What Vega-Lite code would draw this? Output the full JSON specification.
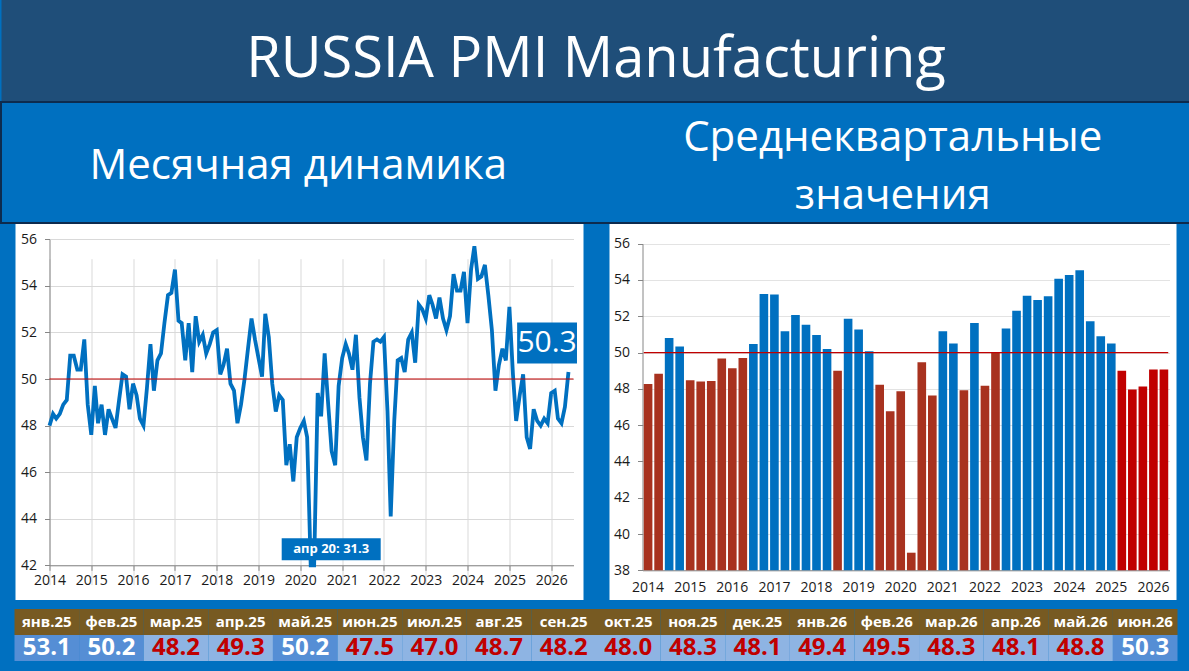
{
  "$schema": "https://vega.github.io/schema/vega-lite/v6.json",
  "background": "#0070c0",
  "padding": 0,
  "spacing": 0,
  "center": true,
  "config": {
    "font": "Open Sans",
    "view": {"stroke": null},
    "axis": {"labelFont": "Open Sans", "labelColor": "#1a1a1a", "labelFontSize": 14, "title": null, "domainColor": "#868686", "tickColor": "#868686", "gridColor": "#d9d9d9"}
  },
  "datasets": {
    "monthly": [
      {"d":"2014/01/01","v":48.0},{"d":"2014/02/01","v":48.5},{"d":"2014/03/01","v":48.3},{"d":"2014/04/01","v":48.5},{"d":"2014/05/01","v":48.9},{"d":"2014/06/01","v":49.1},{"d":"2014/07/01","v":51.0},{"d":"2014/08/01","v":51.0},{"d":"2014/09/01","v":50.4},{"d":"2014/10/01","v":50.4},{"d":"2014/11/01","v":51.7},{"d":"2014/12/01","v":48.9},
      {"d":"2015/01/01","v":47.6},{"d":"2015/02/01","v":49.7},{"d":"2015/03/01","v":48.1},{"d":"2015/04/01","v":48.9},{"d":"2015/05/01","v":47.6},{"d":"2015/06/01","v":48.7},{"d":"2015/07/01","v":48.3},{"d":"2015/08/01","v":47.9},{"d":"2015/09/01","v":49.1},{"d":"2015/10/01","v":50.2},{"d":"2015/11/01","v":50.1},{"d":"2015/12/01","v":48.7},
      {"d":"2016/01/01","v":49.8},{"d":"2016/02/01","v":49.3},{"d":"2016/03/01","v":48.3},{"d":"2016/04/01","v":48.0},{"d":"2016/05/01","v":49.6},{"d":"2016/06/01","v":51.5},{"d":"2016/07/01","v":49.5},{"d":"2016/08/01","v":50.8},{"d":"2016/09/01","v":51.1},{"d":"2016/10/01","v":52.4},{"d":"2016/11/01","v":53.6},{"d":"2016/12/01","v":53.7},
      {"d":"2017/01/01","v":54.7},{"d":"2017/02/01","v":52.5},{"d":"2017/03/01","v":52.4},{"d":"2017/04/01","v":50.8},{"d":"2017/05/01","v":52.4},{"d":"2017/06/01","v":50.3},{"d":"2017/07/01","v":52.7},{"d":"2017/08/01","v":51.6},{"d":"2017/09/01","v":51.9},{"d":"2017/10/01","v":51.1},{"d":"2017/11/01","v":51.5},{"d":"2017/12/01","v":52.0},
      {"d":"2018/01/01","v":52.1},{"d":"2018/02/01","v":50.2},{"d":"2018/03/01","v":50.6},{"d":"2018/04/01","v":51.3},{"d":"2018/05/01","v":49.8},{"d":"2018/06/01","v":49.5},{"d":"2018/07/01","v":48.1},{"d":"2018/08/01","v":48.9},{"d":"2018/09/01","v":50.0},{"d":"2018/10/01","v":51.3},{"d":"2018/11/01","v":52.6},{"d":"2018/12/01","v":51.7},
      {"d":"2019/01/01","v":50.9},{"d":"2019/02/01","v":50.1},{"d":"2019/03/01","v":52.8},{"d":"2019/04/01","v":51.8},{"d":"2019/05/01","v":49.8},{"d":"2019/06/01","v":48.6},{"d":"2019/07/01","v":49.3},{"d":"2019/08/01","v":49.1},{"d":"2019/09/01","v":46.3},{"d":"2019/10/01","v":47.2},{"d":"2019/11/01","v":45.6},{"d":"2019/12/01","v":47.5},
      {"d":"2020/01/01","v":47.9},{"d":"2020/02/01","v":48.2},{"d":"2020/03/01","v":47.5},{"d":"2020/04/01","v":31.3},{"d":"2020/05/01","v":36.2},{"d":"2020/06/01","v":49.4},{"d":"2020/07/01","v":48.4},{"d":"2020/08/01","v":51.1},{"d":"2020/09/01","v":48.9},{"d":"2020/10/01","v":46.9},{"d":"2020/11/01","v":46.3},{"d":"2020/12/01","v":49.7},
      {"d":"2021/01/01","v":50.9},{"d":"2021/02/01","v":51.5},{"d":"2021/03/01","v":51.1},{"d":"2021/04/01","v":50.4},{"d":"2021/05/01","v":51.9},{"d":"2021/06/01","v":49.2},{"d":"2021/07/01","v":47.5},{"d":"2021/08/01","v":46.5},{"d":"2021/09/01","v":49.8},{"d":"2021/10/01","v":51.6},{"d":"2021/11/01","v":51.7},{"d":"2021/12/01","v":51.6},
      {"d":"2022/01/01","v":51.8},{"d":"2022/02/01","v":48.6},{"d":"2022/03/01","v":44.1},{"d":"2022/04/01","v":48.2},{"d":"2022/05/01","v":50.8},{"d":"2022/06/01","v":50.9},{"d":"2022/07/01","v":50.3},{"d":"2022/08/01","v":51.7},{"d":"2022/09/01","v":52.0},{"d":"2022/10/01","v":50.7},{"d":"2022/11/01","v":53.2},{"d":"2022/12/01","v":53.0},
      {"d":"2023/01/01","v":52.6},{"d":"2023/02/01","v":53.6},{"d":"2023/03/01","v":53.2},{"d":"2023/04/01","v":52.6},{"d":"2023/05/01","v":53.5},{"d":"2023/06/01","v":52.6},{"d":"2023/07/01","v":52.1},{"d":"2023/08/01","v":52.7},{"d":"2023/09/01","v":54.5},{"d":"2023/10/01","v":53.8},{"d":"2023/11/01","v":53.8},{"d":"2023/12/01","v":54.6},
      {"d":"2024/01/01","v":52.4},{"d":"2024/02/01","v":54.7},{"d":"2024/03/01","v":55.7},{"d":"2024/04/01","v":54.3},{"d":"2024/05/01","v":54.4},{"d":"2024/06/01","v":54.9},{"d":"2024/07/01","v":53.6},{"d":"2024/08/01","v":52.1},{"d":"2024/09/01","v":49.5},{"d":"2024/10/01","v":50.6},{"d":"2024/11/01","v":51.3},{"d":"2024/12/01","v":50.8},
      {"d":"2025/01/01","v":53.1},{"d":"2025/02/01","v":50.2},{"d":"2025/03/01","v":48.2},{"d":"2025/04/01","v":49.3},{"d":"2025/05/01","v":50.2},{"d":"2025/06/01","v":47.5},{"d":"2025/07/01","v":47.0},{"d":"2025/08/01","v":48.7},{"d":"2025/09/01","v":48.2},{"d":"2025/10/01","v":48.0},{"d":"2025/11/01","v":48.3},{"d":"2025/12/01","v":48.1},
      {"d":"2026/01/01","v":49.4},{"d":"2026/02/01","v":49.5},{"d":"2026/03/01","v":48.3},{"d":"2026/04/01","v":48.1},{"d":"2026/05/01","v":48.8},{"d":"2026/06/01","v":50.3}
    ],
    "quarterly": [
      {"q":"2014Q1","y":2014,"v":48.27},{"q":"2014Q2","y":2014,"v":48.83},{"q":"2014Q3","y":2014,"v":50.80},{"q":"2014Q4","y":2014,"v":50.33},
      {"q":"2015Q1","y":2015,"v":48.47},{"q":"2015Q2","y":2015,"v":48.40},{"q":"2015Q3","y":2015,"v":48.43},{"q":"2015Q4","y":2015,"v":49.67},
      {"q":"2016Q1","y":2016,"v":49.13},{"q":"2016Q2","y":2016,"v":49.70},{"q":"2016Q3","y":2016,"v":50.47},{"q":"2016Q4","y":2016,"v":53.23},
      {"q":"2017Q1","y":2017,"v":53.20},{"q":"2017Q2","y":2017,"v":51.17},{"q":"2017Q3","y":2017,"v":52.07},{"q":"2017Q4","y":2017,"v":51.53},
      {"q":"2018Q1","y":2018,"v":50.97},{"q":"2018Q2","y":2018,"v":50.20},{"q":"2018Q3","y":2018,"v":49.00},{"q":"2018Q4","y":2018,"v":51.87},
      {"q":"2019Q1","y":2019,"v":51.27},{"q":"2019Q2","y":2019,"v":50.07},{"q":"2019Q3","y":2019,"v":48.23},{"q":"2019Q4","y":2019,"v":46.77},
      {"q":"2020Q1","y":2020,"v":47.87},{"q":"2020Q2","y":2020,"v":38.97},{"q":"2020Q3","y":2020,"v":49.47},{"q":"2020Q4","y":2020,"v":47.63},
      {"q":"2021Q1","y":2021,"v":51.17},{"q":"2021Q2","y":2021,"v":50.50},{"q":"2021Q3","y":2021,"v":47.93},{"q":"2021Q4","y":2021,"v":51.63},
      {"q":"2022Q1","y":2022,"v":48.17},{"q":"2022Q2","y":2022,"v":49.97},{"q":"2022Q3","y":2022,"v":51.33},{"q":"2022Q4","y":2022,"v":52.30},
      {"q":"2023Q1","y":2023,"v":53.13},{"q":"2023Q2","y":2023,"v":52.90},{"q":"2023Q3","y":2023,"v":53.10},{"q":"2023Q4","y":2023,"v":54.07},
      {"q":"2024Q1","y":2024,"v":54.27},{"q":"2024Q2","y":2024,"v":54.53},{"q":"2024Q3","y":2024,"v":51.73},{"q":"2024Q4","y":2024,"v":50.90},
      {"q":"2025Q1","y":2025,"v":50.50},{"q":"2025Q2","y":2025,"v":49.00},{"q":"2025Q3","y":2025,"v":47.97},{"q":"2025Q4","y":2025,"v":48.13},
      {"q":"2026Q1","y":2026,"v":49.07},{"q":"2026Q2","y":2026,"v":49.07}
    ],
    "table": [
      {"m":"янв.25","v":53.1},{"m":"фев.25","v":50.2},{"m":"мар.25","v":48.2},{"m":"апр.25","v":49.3},{"m":"май.25","v":50.2},{"m":"июн.25","v":47.5},
      {"m":"июл.25","v":47.0},{"m":"авг.25","v":48.7},{"m":"сен.25","v":48.2},{"m":"окт.25","v":48.0},{"m":"ноя.25","v":48.3},{"m":"дек.25","v":48.1},
      {"m":"янв.26","v":49.4},{"m":"фев.26","v":49.5},{"m":"мар.26","v":48.3},{"m":"апр.26","v":48.1},{"m":"май.26","v":48.8},{"m":"июн.26","v":50.3}
    ]
  },
  "vconcat": [
    {
      "width": 1189, "height": 101,
      "view": {"fill": "#1f4e79", "stroke": null},
      "data": {"values": [{"t": "RUSSIA PMI Manufacturing"}]},
      "mark": {"type": "text", "color": "white", "fontSize": 56, "baseline": "alphabetic", "dy": 26},
      "encoding": {"text": {"field": "t"}}
    },
    {
      "width": 1189, "height": 121,
      "view": {"stroke": "#0d2b4e", "strokeWidth": 2},
      "data": {"values": [{"t": "Месячная динамика"}, {"t": "Среднеквартальные\nзначения"}]},
      "encoding": {
        "x": {"field": "t", "type": "nominal", "sort": null, "scale": {"type": "band", "paddingInner": 0, "paddingOuter": 0}, "axis": null},
        "text": {"field": "t"}
      },
      "layer": [
        {
          "transform": [{"filter": "datum.t == 'Месячная динамика'"}],
          "mark": {"type": "text", "color": "white", "fontSize": 42, "baseline": "middle", "dy": 3.5}
        },
        {
          "transform": [{"filter": "datum.t != 'Месячная динамика'"}],
          "mark": {"type": "text", "color": "white", "fontSize": 42, "lineBreak": "\n", "lineHeight": 58, "baseline": "middle", "dy": -24.5}
        }
      ]
    },
    {
      "spacing": 26,
      "hconcat": [
        {
          "width": 568, "height": 376,
          "view": {"fill": "white", "stroke": null},
          "layer": [
            {
              "data": {"name": "monthly"},
              "mark": {"type": "line", "color": "#0070c0", "strokeWidth": 3.8},
              "encoding": {
                "x": {"field": "d", "type": "temporal",
                  "scale": {"domain": [{"year": 2014, "month": 1, "date": 1}, {"year": 2026, "month": 7, "date": 15}], "range": [34, 558], "nice": false},
                  "axis": {"orient": "bottom", "offset": -34.7, "format": "%Y", "tickCount": {"interval": "year", "step": 1}, "grid": true, "ticks": true, "tickSize": 5, "labelPadding": 3, "labelFlush": false, "labelOverlap": false}},
                "y": {"field": "v", "type": "quantitative",
                  "scale": {"domain": [42, 56], "range": [341.3, 15.3], "clamp": true, "nice": false, "zero": false},
                  "axis": {"offset": -34, "values": [42, 44, 46, 48, 50, 52, 54, 56], "grid": true, "tickSize": 5, "labelPadding": 8}}
              }
            },
            {
              "data": {"values": [{}]},
              "mark": {"type": "rule", "color": "#c00000", "strokeWidth": 1.2},
              "encoding": {
                "x": {"datum": {"year": 2014, "month": 1, "date": 1}, "type": "temporal"},
                "x2": {"datum": {"year": 2026, "month": 7, "date": 15}},
                "y": {"datum": 50, "type": "quantitative"}
              }
            },
            {
              "data": {"values": [{"d": "2026/06/01", "v": 50.3}]},
              "mark": {"type": "point", "shape": "M-1.46,-1L1.46,-1L1.46,1L-1.46,1Z", "size": 1681, "filled": true, "color": "#0070c0", "opacity": 1, "xOffset": -21.4, "yOffset": -29, "strokeWidth": 0},
              "encoding": {"x": {"field": "d", "type": "temporal"}, "y": {"field": "v", "type": "quantitative"}}
            },
            {
              "data": {"values": [{"d": "2026/06/01", "v": 50.3}]},
              "mark": {"type": "text", "color": "white", "fontSize": 30, "dx": -21.4, "dy": -29, "baseline": "middle"},
              "encoding": {"x": {"field": "d", "type": "temporal"}, "y": {"field": "v", "type": "quantitative"}, "text": {"field": "v", "format": ".1f"}}
            },
            {
              "data": {"values": [{"d": "2020/04/01", "v": 31.3, "label": "апр 20: 31.3"}]},
              "mark": {"type": "point", "shape": "M-4.5,-1L4.5,-1L4.5,1L-4.5,1Z", "size": 484, "filled": true, "color": "#0070c0", "opacity": 1, "xOffset": 20.5, "yOffset": -16, "strokeWidth": 0},
              "encoding": {"x": {"field": "d", "type": "temporal"}, "y": {"field": "v", "type": "quantitative"}}
            },
            {
              "data": {"values": [{"d": "2020/04/01", "v": 31.3, "label": "апр 20: 31.3"}]},
              "mark": {"type": "text", "color": "white", "fontSize": 13, "fontWeight": "bold", "dx": 20.5, "dy": -16, "baseline": "middle"},
              "encoding": {"x": {"field": "d", "type": "temporal"}, "y": {"field": "v", "type": "quantitative"}, "text": {"field": "label"}}
            }
          ]
        },
        {
          "width": 567, "height": 376,
          "view": {"fill": "white", "stroke": null},
          "layer": [
            {
              "data": {"name": "quarterly"},
              "mark": {"type": "bar"},
              "encoding": {
                "x": {"field": "q", "type": "ordinal", "sort": null,
                  "scale": {"type": "band", "range": [33, 560], "paddingInner": 0.18, "paddingOuter": 0.12},
                  "axis": {"orient": "bottom", "offset": -29.7, "values": ["2014Q1","2015Q1","2016Q1","2017Q1","2018Q1","2019Q1","2020Q1","2021Q1","2022Q1","2023Q1","2024Q1","2025Q1","2026Q1"], "labelExpr": "slice(datum.value, 0, 4)", "ticks": false, "grid": false, "labelPadding": 10, "labelAngle": 0}},
                "y": {"field": "v", "type": "quantitative",
                  "scale": {"domain": [38, 56], "range": [346.3, 19.7], "nice": false, "zero": false},
                  "axis": {"offset": -33, "values": [38, 40, 42, 44, 46, 48, 50, 52, 54, 56], "grid": true, "gridColor": "#e3e3e3", "tickSize": 5, "labelPadding": 8}},
                "y2": {"datum": 38},
                "color": {"condition": [{"test": "datum.v >= 50", "value": "#0070c0"}, {"test": "datum.y >= 2025", "value": "#c00000"}], "value": "#a8321f"}
              }
            },
            {
              "data": {"values": [{}]},
              "mark": {"type": "rule", "color": "#c00000", "strokeWidth": 1.2},
              "encoding": {
                "x": {"datum": "2014Q1", "type": "ordinal", "bandPosition": 0},
                "x2": {"datum": "2026Q2", "bandPosition": 1},
                "y": {"datum": 50, "type": "quantitative"}
              }
            }
          ]
        }
      ]
    },
    {
      "width": 1163, "height": 73,
      "data": {"name": "table"},
      "encoding": {"x": {"field": "m", "type": "nominal", "sort": null, "scale": {"paddingInner": 0, "paddingOuter": 0}, "axis": null}},
      "layer": [
        {
          "mark": {"type": "rect", "color": "#775a22"},
          "encoding": {"y": {"datum": "h", "type": "nominal", "scale": {"domain": ["h", "v"], "range": [9, 61], "paddingInner": 0, "paddingOuter": 0}, "axis": null}}
        },
        {
          "mark": {"type": "text", "color": "white", "fontSize": 15, "fontWeight": "bold", "baseline": "middle"},
          "encoding": {"y": {"datum": "h", "type": "nominal"}, "text": {"field": "m"}}
        },
        {
          "mark": {"type": "rect"},
          "encoding": {"y": {"datum": "v", "type": "nominal"}, "color": {"condition": {"test": "datum.v >= 50", "value": "#558ed5"}, "value": "#8eb4e3"}}
        },
        {
          "mark": {"type": "text", "fontSize": 24, "fontWeight": "bold", "baseline": "middle"},
          "encoding": {"y": {"datum": "v", "type": "nominal"}, "text": {"field": "v", "format": ".1f"}, "color": {"condition": {"test": "datum.v >= 50", "value": "white"}, "value": "#c00000"}}
        }
      ]
    }
  ]
}
